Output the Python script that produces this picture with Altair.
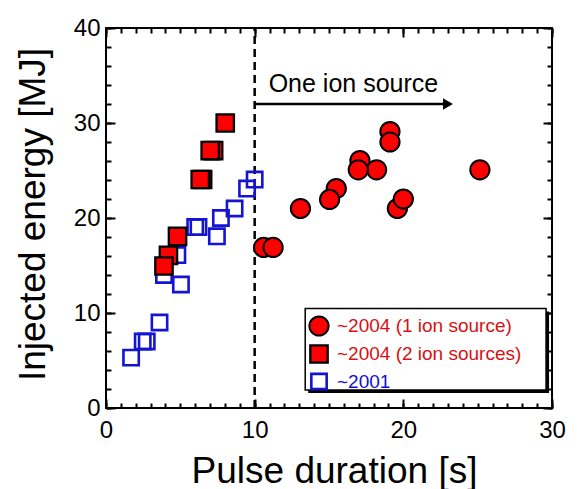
import altair as alt
import pandas as pd

FONT = "Liberation Sans"

S1 = "~2004 (1 ion source)"
S2 = "~2004 (2 ion sources)"
S3 = "~2001"
SERIES = [S1, S2, S3]

# ~2001 (open blue squares)
x_2001 = [1.69, 2.47, 2.74, 3.6, 3.9, 5.04, 4.8, 6.0, 6.22, 7.46, 7.73, 8.65, 9.49, 10.0]
y_2001 = [5.3, 7.0, 7.0, 9.0, 14.0, 13.0, 16.1, 19.05, 19.05, 18.07, 20.0, 21.0, 23.1, 24.05]

# ~2004, 2 ion sources (red squares)
x_2src = [4.81, 4.2, 3.9, 6.5, 6.34, 7.24, 7.01, 8.02]
y_2src = [18.07, 16.07, 14.95, 24.05, 24.05, 27.1, 27.1, 30.0]

# ~2004, 1 ion source (red circles)
x_1src = [10.6, 11.24, 13.08, 15.49, 15.04, 17.08, 18.2, 16.97, 19.1, 19.1, 19.6, 20.0, 25.15]
y_1src = [16.9, 16.9, 21.0, 23.1, 21.95, 26.05, 25.07, 25.07, 29.1, 28.0, 21.0, 22.0, 25.07]

X_MAJOR = [0, 10, 20, 30]
X_MINOR = list(range(0, 31))
Y_MAJOR = [0, 10, 20, 30, 40]
Y_MINOR = list(range(0, 41, 2))
X_DOMAIN = [0, 30]
Y_DOMAIN = [0, 40]

BOUNDARY_X = 10
ARROW_START, ARROW_END, ARROW_Y = 10, 23.0, 32
ANNOT_X, ANNOT_Y, ANNOT_TEXT = 10.94, 33.3, "One ion source"
LEGEND_BOX = {"x": [13.4], "x2": [29.6], "y": [10.47], "y2": [1.9]}

MAJ_LEN, MIN_LEN = 9, 5

rows = []
for x, y in zip(x_2001, y_2001):
    rows.append({"x": x, "y": y, "series": S3})
for x, y in zip(x_2src, y_2src):
    rows.append({"x": x, "y": y, "series": S2})
for x, y in zip(x_1src, y_1src):
    rows.append({"x": x, "y": y, "series": S1})
df = pd.DataFrame(rows)

xs = alt.Scale(domain=X_DOMAIN, nice=False)
ys = alt.Scale(domain=Y_DOMAIN, nice=False)


def tick_axis(orient, values, length):
    # inward ticks: shift the axis inside the frame by its tick length
    return alt.Axis(orient=orient, values=values, tickSize=length, offset=-length,
                    labels=False, domain=False, title=None, grid=False)


x_bottom = alt.Axis(
    orient="bottom", values=X_MAJOR, ticks=False, tickSize=0, domain=False, labelFlush=False,
    labelPadding=10, title="Pulse duration [s]", titleX=228, titleY=74,
    titleAlign="center", titleBaseline="alphabetic",
)
y_left = alt.Axis(
    orient="left", values=Y_MAJOR, ticks=False, tickSize=0, domain=False, labelFlush=False,
    labelPadding=6, title="Injected energy [MJ]", titleX=-62, titleY=186, titleAngle=270,
    titleAlign="center", titleBaseline="alphabetic",
)

legend = alt.Legend(
    title=None, orient="none", legendX=202, legendY=287,
    labelFont=FONT, labelFontSize=19, labelLimit=400,
    labelColor=alt.ExprRef("datum.label === '~2001' ? '#1010d8' : '#d81010'"),
    labelOffset=7, rowPadding=0, padding=0,
    symbolStrokeWidth=2, symbolFillColor="transparent", symbolOpacity=1,
)

points = alt.Chart(df).mark_point(filled=True, opacity=1).encode(
    x=alt.X("x:Q", scale=xs, axis=x_bottom),
    y=alt.Y("y:Q", scale=ys, axis=y_left),
    shape=alt.Shape("series:N", scale=alt.Scale(domain=SERIES, range=["circle", "square", "square"]), legend=legend),
    fill=alt.Fill("series:N", scale=alt.Scale(domain=SERIES, range=["#ff0000", "#ff0000", "transparent"]), legend=legend),
    stroke=alt.Stroke("series:N", scale=alt.Scale(domain=SERIES, range=["#000000", "#000000", "#1414d2"]), legend=legend),
    size=alt.Size("series:N", scale=alt.Scale(domain=SERIES, range=[370, 235, 235]), legend=legend),
    strokeWidth=alt.StrokeWidth("series:N", scale=alt.Scale(domain=SERIES, range=[2, 2.6, 2]), legend=None),
)

boundary_df = pd.DataFrame({"x": [BOUNDARY_X], "y0": [Y_DOMAIN[0]], "y1": [Y_DOMAIN[1]]})
boundary = alt.Chart(boundary_df).mark_rule(color="black", strokeWidth=2.5, strokeDash=[8, 5]).encode(
    x=alt.X("x:Q", scale=xs, axis=tick_axis("bottom", X_MAJOR, MAJ_LEN)),
    y=alt.Y("y0:Q", scale=ys, axis=tick_axis("left", Y_MAJOR, MAJ_LEN)),
    y2="y1:Q",
)

arrow_df = pd.DataFrame({"x": [ARROW_START], "x2": [ARROW_END], "y": [ARROW_Y]})
arrow_line = alt.Chart(arrow_df).mark_rule(color="black", strokeWidth=2.5).encode(
    x=alt.X("x:Q", scale=xs, axis=tick_axis("bottom", X_MINOR, MIN_LEN)),
    x2="x2:Q",
    y=alt.Y("y:Q", scale=ys, axis=tick_axis("left", Y_MINOR, MIN_LEN)),
)
arrow_head = alt.Chart(arrow_df).mark_point(shape="triangle-right", filled=True, color="black", opacity=1, size=130).encode(
    x=alt.X("x2:Q", scale=xs, axis=tick_axis("top", X_MAJOR, MAJ_LEN)),
    y=alt.Y("y:Q", scale=ys, axis=tick_axis("right", Y_MAJOR, MAJ_LEN)),
)

annot_df = pd.DataFrame({"x": [ANNOT_X], "y": [ANNOT_Y], "label": [ANNOT_TEXT]})
annot = alt.Chart(annot_df).mark_text(align="left", baseline="alphabetic", fontSize=25, font=FONT, color="black").encode(
    x=alt.X("x:Q", scale=xs, axis=tick_axis("top", X_MINOR, MIN_LEN)),
    y=alt.Y("y:Q", scale=ys, axis=tick_axis("right", Y_MINOR, MIN_LEN)),
    text="label:N",
)

box_df = pd.DataFrame(LEGEND_BOX)
shadow = alt.Chart(box_df).mark_rect(color="black", opacity=1, xOffset=3, x2Offset=3, yOffset=3, y2Offset=3).encode(
    x=alt.X("x:Q", scale=xs, axis=None), x2="x2:Q", y=alt.Y("y:Q", scale=ys, axis=None), y2="y2:Q"
)
frame = alt.Chart(box_df).mark_rect(fill="white", stroke="black", strokeWidth=1.5, opacity=1).encode(
    x=alt.X("x:Q", scale=xs, axis=None), x2="x2:Q", y=alt.Y("y:Q", scale=ys, axis=None), y2="y2:Q"
)

chart = alt.layer(boundary, points, arrow_line, arrow_head, annot, shadow, frame).resolve_axis(
    x="independent", y="independent"
).properties(
    width=446, height=380,
    autosize=alt.AutoSizeParams(type="none"),
    padding={"left": 98, "top": 20, "right": 16, "bottom": 81},
).configure_axis(
    grid=False, tickColor="black", tickWidth=2,
    labelFont=FONT, labelFontSize=24, labelColor="black",
    titleFont=FONT, titleFontSize=37, titleFontWeight="normal", titleColor="black",
).configure_view(stroke="black", strokeWidth=2)

chart.save("out.html", embed_options={"renderer": "svg", "actions": False})
